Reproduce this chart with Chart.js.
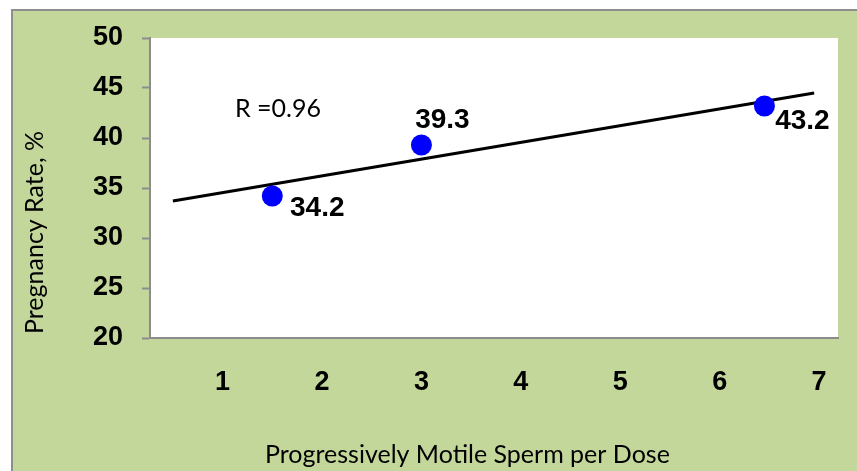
<!DOCTYPE html>
<html>
<head>
<meta charset="utf-8">
<script src="https://cdn.jsdelivr.net/npm/chart.js@4.4.1/dist/chart.umd.min.js"></script>
<style>
  html, body { margin: 0; padding: 0; background: #ffffff; }
  #wrap { width: 857px; height: 471px; position: relative; }
</style>
</head>
<body>
<div id="wrap"><canvas id="c" width="857" height="471"></canvas></div>
<script>
// ---- data ----
const spermPerDose = [1.5, 3.0, 6.45];
const pregnancyRate = [34.2, 39.3, 43.2];
const trendX = [0.5, 6.95];
const trendY = [33.7, 44.5];
const xTickValues = [1, 2, 3, 4, 5, 6, 7];
const xTickLabels = ['1', '2', '3', '4', '5', '6', '7'];
const yTickValues = [20, 25, 30, 35, 40, 45, 50];
const correlationText = 'R =0.96';
const xTitle = 'Progressively Motile Sperm per Dose';
const yTitle = 'Pregnancy Rate, %';

// ---- styles ----
const GREEN = '#c4d79b';
const BORDER = '#8e8e8e';
const AXIS = '#8c8c8c';
const TITLE_FONT = '25px Lato, "Open Sans", sans-serif';
const labelOffsets = [[45, 12], [21, -25], [38, 15]];

const scatterData = spermPerDose.map((x, i) => ({ x: x, y: pregnancyRate[i] }));
const trendData = trendX.map((x, i) => ({ x: x, y: trendY[i] }));

const decorPlugin = {
  id: 'decor',
  beforeDraw(chart) {
    const ctx = chart.ctx;
    const a = chart.chartArea;
    ctx.save();
    ctx.fillStyle = '#ffffff';
    ctx.fillRect(0, 0, chart.width, chart.height);
    ctx.fillStyle = GREEN;
    ctx.fillRect(12, 10, chart.width - 12, chart.height - 10);
    ctx.strokeStyle = BORDER;
    ctx.lineWidth = 2;
    ctx.beginPath();
    ctx.moveTo(12, chart.height);
    ctx.lineTo(12, 10);
    ctx.lineTo(chart.width, 10);
    ctx.stroke();
    ctx.fillStyle = '#ffffff';
    ctx.fillRect(a.left, a.top, a.right - a.left, a.bottom - a.top);
    ctx.restore();
  },
  afterDraw(chart) {
    const ctx = chart.ctx;
    ctx.save();
    ctx.fillStyle = '#000000';
    // titles
    ctx.font = TITLE_FONT;
    ctx.textAlign = 'left';
    ctx.textBaseline = 'alphabetic';
    ctx.fillText(xTitle, 265, 463);
    ctx.save();
    ctx.translate(43, 334);
    ctx.rotate(-Math.PI / 2);
    ctx.fillText(yTitle, 0, 0);
    ctx.restore();
    // correlation annotation
    ctx.fillText(correlationText, 235, 117);
    // data labels
    const meta = chart.getDatasetMeta(1);
    ctx.font = 'bold 28px "Liberation Sans", Arial, sans-serif';
    ctx.textAlign = 'center';
    ctx.textBaseline = 'middle';
    meta.data.forEach((pt, i) => {
      const o = labelOffsets[i];
      ctx.fillText(pregnancyRate[i].toFixed(1), pt.x + o[0], pt.y + o[1]);
    });
    ctx.restore();
  }
};

new Chart(document.getElementById('c'), {
  type: 'scatter',
  data: {
    datasets: [
      {
        type: 'line',
        label: 'Trend',
        data: trendData,
        borderColor: '#000000',
        borderWidth: 3,
        pointRadius: 0,
        fill: false,
        order: 2
      },
      {
        label: 'Pregnancy rate',
        data: scatterData,
        backgroundColor: '#0000ff',
        borderColor: '#0000ff',
        borderWidth: 0,
        pointRadius: 10.5,
        pointHoverRadius: 10.5,
        order: 1
      }
    ]
  },
  options: {
    responsive: false,
    animation: false,
    devicePixelRatio: 1,
    layout: { padding: { left: 0, top: 38, right: 19, bottom: 0 } },
    plugins: { legend: { display: false }, tooltip: { enabled: false } },
    scales: {
      x: {
        type: 'linear',
        min: 0.27,
        max: 7.19,
        afterFit(scale) { scale.height = 133; },
        afterBuildTicks(scale) { scale.ticks = xTickValues.map(v => ({ value: v })); },
        ticks: {
          autoSkip: false,
          maxRotation: 0,
          padding: 28,
          color: '#000000',
          font: { family: '"Liberation Sans", Arial, sans-serif', size: 27, weight: 'bold' },
          callback: (v) => { const i = xTickValues.indexOf(v); return i >= 0 ? xTickLabels[i] : ''; }
        },
        grid: { display: true, drawOnChartArea: false, drawTicks: false },
        border: { display: true, color: AXIS, width: 2 }
      },
      y: {
        type: 'linear',
        min: 20,
        max: 50,
        afterFit(scale) { scale.width = 150; },
        afterBuildTicks(scale) { scale.ticks = yTickValues.map(v => ({ value: v })); },
        ticks: {
          padding: 19,
          color: '#000000',
          font: { family: '"Liberation Sans", Arial, sans-serif', size: 27, weight: 'bold' }
        },
        grid: { display: true, drawOnChartArea: false, drawTicks: true, tickLength: 8, tickColor: AXIS, tickWidth: 2 },
        border: { display: true, color: AXIS, width: 2 }
      }
    }
  },
  plugins: [decorPlugin]
});
</script>
</body>
</html>
